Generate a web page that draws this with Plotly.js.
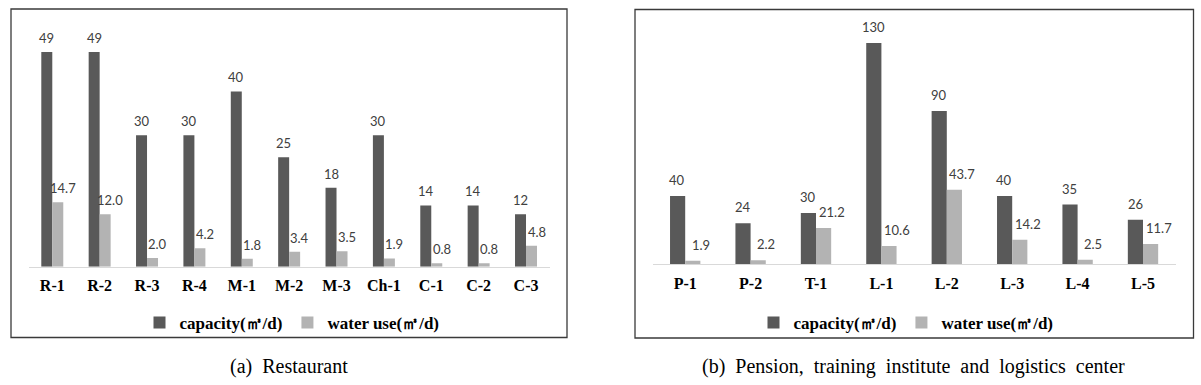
<!DOCTYPE html>
<html>
<head>
<meta charset="utf-8">
<script src="https://cdn.plot.ly/plotly-3.0.1.min.js"></script>
<style>html,body{margin:0;padding:0;background:#fff;}#chart{width:1201px;height:385px;}</style>
</head>
<body>
<div id="chart"></div>
<script>
// ---- data (a) Restaurant ----
const restCategories = ["R-1","R-2","R-3","R-4","M-1","M-2","M-3","Ch-1","C-1","C-2","C-3"];
const restCapacity   = [49, 49, 30, 30, 40, 25, 18, 30, 14, 14, 12];
const restWaterUse   = [14.7, 12.0, 2.0, 4.2, 1.8, 3.4, 3.5, 1.9, 0.8, 0.8, 4.8];
const restCapLabels  = ["49","49","30","30","40","25","18","30","14","14","12"];
const restUseLabels  = ["14.7","12.0","2.0","4.2","1.8","3.4","3.5","1.9","0.8","0.8","4.8"];

// ---- data (b) Pension, training institute and logistics center ----
const otherCategories = ["P-1","P-2","T-1","L-1","L-2","L-3","L-4","L-5"];
const otherCapacity   = [40, 24, 30, 130, 90, 40, 35, 26];
const otherWaterUse   = [1.9, 2.2, 21.2, 10.6, 43.7, 14.2, 2.5, 11.7];
const otherCapLabels  = ["40","24","30","130","90","40","35","26"];
const otherUseLabels  = ["1.9","2.2","21.2","10.6","43.7","14.2","2.5","11.7"];

const seriesNames = ["capacity(㎥/d)", "water use(㎥/d)"];
const captions = ["(a)  Restaurant", "(b)  Pension,  training  institute  and  logistics  center"];

// ---- styles ----
const DARK = "#595959", LIGHT = "#b3b3b3";
const labelFont = {family: "Lato", size: 13, color: "#404040"};
const tickFont = {family: "Liberation Serif", size: 16, color: "#000", weight: "bold"};
const legendFont = {family: "Liberation Serif", size: 17, color: "#000", weight: "bold"};

const traces = [
  {type: "bar", x: restCategories, y: restCapacity, name: seriesNames[0], marker: {color: DARK}, xaxis: "x", yaxis: "y", legend: "legend", hoverinfo: "x+y"},
  {type: "bar", x: restCategories, y: restWaterUse, name: seriesNames[1], marker: {color: LIGHT}, xaxis: "x", yaxis: "y", legend: "legend", hoverinfo: "x+y"},
  {type: "bar", x: otherCategories, y: otherCapacity, name: seriesNames[0], marker: {color: DARK}, xaxis: "x2", yaxis: "y2", legend: "legend2", hoverinfo: "x+y"},
  {type: "bar", x: otherCategories, y: otherWaterUse, name: seriesNames[1], marker: {color: LIGHT}, xaxis: "x2", yaxis: "y2", legend: "legend2", hoverinfo: "x+y"}
];

const annotations = [];
function addLabels(cats, vals, labels, xref, yref, xshift, yshift) {
  cats.forEach((c, i) => {
    annotations.push({x: c, y: vals[i], xref: xref, yref: yref, text: labels[i], showarrow: false,
      xanchor: "center", yanchor: "middle", xshift: xshift, yshift: yshift, font: labelFont});
  });
}
addLabels(restCategories, restCapacity, restCapLabels, "x", "y", -5.5, 14);
addLabels(restCategories, restWaterUse, restUseLabels, "x", "y", 10.5, 14);
addLabels(otherCategories, otherCapacity, otherCapLabels, "x2", "y2", -8, 16);
addLabels(otherCategories, otherWaterUse, otherUseLabels, "x2", "y2", 15.5, 16);

const captionFont = {family: "Liberation Serif", size: 20, color: "#000"};
annotations.push({xref: "paper", yref: "paper", x: 289/1201, y: 1 - 366/385, text: captions[0], showarrow: false, xanchor: "center", yanchor: "middle", font: captionFont});
annotations.push({xref: "paper", yref: "paper", x: 913/1201, y: 1 - 366.5/385, text: captions[1], showarrow: false, xanchor: "center", yanchor: "middle", font: captionFont});

const boxLine = {color: "#3a3a3a", width: 1.3};
const shapes = [
  {type: "rect", xref: "paper", yref: "paper", x0: 11/1201, x1: 567/1201, y0: 1 - 337.5/385, y1: 1 - 9/385, line: boxLine},
  {type: "rect", xref: "paper", yref: "paper", x0: 635/1201, x1: 1193.5/1201, y0: 1 - 338/385, y1: 1 - 9.5/385, line: boxLine}
];

const xaxisBase = {showgrid: false, zeroline: false, showline: true, linecolor: "#d9d9d9", linewidth: 1.3,
  ticks: "", tickfont: tickFont, fixedrange: true, ticklabelstandoff: 4};
const yaxisBase = {showgrid: false, zeroline: false, showline: false, showticklabels: false, ticks: "", fixedrange: true};

const legendBase = {orientation: "h", xanchor: "center", yanchor: "middle", font: legendFont, bgcolor: "rgba(0,0,0,0)", itemwidth: 30, itemclick: false};

const layout = {
  width: 1201, height: 385,
  margin: {l: 0, r: 0, t: 0, b: 0},
  paper_bgcolor: "#fff", plot_bgcolor: "#fff",
  barmode: "group",
  bargap: 0.536,
  bargroupgap: 0,
  showlegend: true,
  xaxis: Object.assign({}, xaxisBase, {domain: [28.6/1201, 549.7/1201], anchor: "y"}),
  yaxis: Object.assign({}, yaxisBase, {domain: [1 - 266.7/385, 1 - 25.8/385], range: [0, 55], anchor: "x"}),
  xaxis2: Object.assign({}, xaxisBase, {domain: [652.5/1201, 1175.7/1201], anchor: "y2"}),
  yaxis2: Object.assign({}, yaxisBase, {domain: [1 - 264/385, 1 - 26/385], range: [0, 140], anchor: "x2"}),
  legend: Object.assign({}, legendBase, {x: 292/1201, y: 1 - 323/385}),
  legend2: Object.assign({}, legendBase, {x: 906/1201, y: 1 - 323/385}),
  annotations: annotations,
  shapes: shapes
};

Plotly.newPlot("chart", traces, layout, {displayModeBar: false, staticPlot: true});
</script>
</body>
</html>
